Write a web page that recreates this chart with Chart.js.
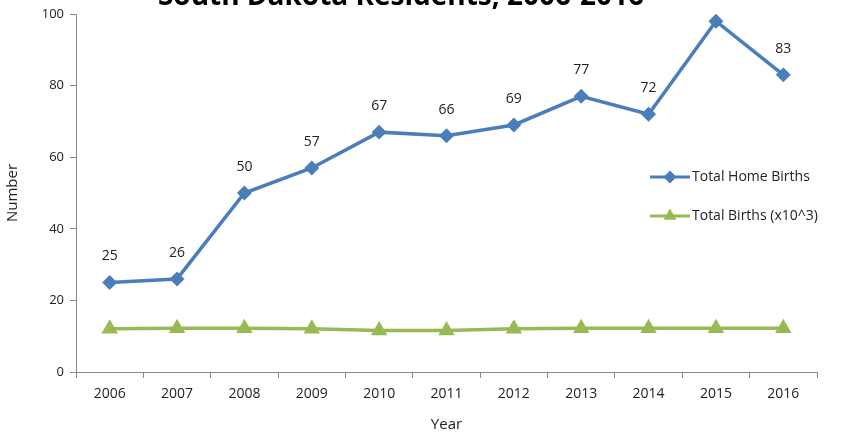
<!DOCTYPE html>
<html>
<head>
<meta charset="utf-8">
<script src="https://cdn.jsdelivr.net/npm/chart.js@4/dist/chart.umd.min.js"></script>
<style>
    html, body { margin: 0; padding: 0; background: #fff; }
    #wrap { width: 841px; height: 438px; }
</style>
</head>
<body>
<div id="wrap"><canvas id="lineChart"></canvas></div>
<script>
var years = ['2006', '2007', '2008', '2009', '2010', '2011', '2012', '2013', '2014', '2015', '2016'];
var homeBirths = [25, 26, 50, 57, 67, 66, 69, 77, 72, 98, 83];
var totalBirths = [12.1, 12.2, 12.2, 12.1, 11.6, 11.6, 12.1, 12.2, 12.2, 12.2, 12.2];
var yTicks = [0, 20, 40, 60, 80, 100];

var blue = '#4a7ebb';
var green = '#98b954';
var fontName = "'Open Sans', 'DejaVu Sans', sans-serif";

document.addEventListener("DOMContentLoaded", function () {
    var ctx = document.getElementById('lineChart').getContext('2d');

    // title (cut off at top), value labels and in-plot legend
    var extras = {
        id: 'extras',
        afterDatasetsDraw: function (chart) {
            var c = chart.ctx;
            c.save();
            c.fillStyle = '#000';
            c.font = "bold 28px " + fontName;
            c.textAlign = 'center';
            c.textBaseline = 'alphabetic';
            c.fillText('South Dakota Residents, 2006-2016', 401, 5);

            var meta = chart.getDatasetMeta(0);
            c.font = "14px " + fontName;
            c.fillStyle = '#222';
            c.textBaseline = 'middle';
            meta.data.forEach(function (pt, i) {
                c.fillText(String(homeBirths[i]), pt.x, pt.y - 26);
            });

            var items = [
                { text: 'Total Home Births', color: blue, style: 'rectRot', y: 177 },
                { text: 'Total Births (x10^3)', color: green, style: 'triangle', y: 216 }
            ];
            c.textAlign = 'left';
            c.font = "14px " + fontName;
            items.forEach(function (it) {
                c.strokeStyle = it.color;
                c.lineWidth = 3;
                c.beginPath();
                c.moveTo(650, it.y);
                c.lineTo(690, it.y);
                c.stroke();
                Chart.helpers.drawPoint(c, { pointStyle: it.style, radius: 4.5, borderWidth: 1 }, 670, it.y);
                c.fillStyle = it.color;
                c.fill();
                c.fillStyle = '#222';
                c.fillText(it.text, 692, it.y);
            });
            c.restore();
        }
    };

    new Chart(ctx, {
        type: 'line',
        data: {
            labels: years,
            datasets: [{
                label: 'Total Home Births',
                data: homeBirths,
                borderColor: blue,
                backgroundColor: blue,
                borderWidth: 3.5,
                pointStyle: 'rectRot',
                pointRadius: 5,
                pointHoverRadius: 5,
                tension: 0
            }, {
                label: 'Total Births (x10^3)',
                data: totalBirths,
                borderColor: green,
                backgroundColor: green,
                borderWidth: 3.5,
                pointStyle: 'triangle',
                pointRadius: 6,
                pointHoverRadius: 6,
                tension: 0
            }]
        },
        options: {
            responsive: true,
            maintainAspectRatio: false,
            animation: false,
            layout: { padding: { top: 14, right: 24, left: 0, bottom: 0 } },
            plugins: {
                legend: { display: false },
                title: { display: false },
                tooltip: { enabled: false }
            },
            scales: {
                x: {
                    offset: true,
                    grid: {
                        offset: true,
                        drawOnChartArea: false,
                        tickLength: 6,
                        color: '#888'
                    },
                    border: { color: '#888', width: 1 },
                    ticks: {
                        color: '#222',
                        font: { family: fontName, size: 14 },
                        padding: 8,
                        maxRotation: 0
                    },
                    title: {
                        display: true,
                        text: 'Year',
                        color: '#222',
                        font: { family: fontName, size: 15 },
                        padding: { top: 6 }
                    },
                    afterFit: function (s) { s.height = 66; }
                },
                y: {
                    min: 0,
                    max: 100,
                    afterBuildTicks: function (s) {
                        s.ticks = yTicks.map(function (v) { return { value: v }; });
                    },
                    grid: {
                        drawOnChartArea: false,
                        tickLength: 6,
                        color: '#888'
                    },
                    border: { color: '#888', width: 1 },
                    ticks: {
                        color: '#222',
                        font: { family: fontName, size: 13 },
                        padding: 6
                    },
                    title: {
                        display: true,
                        text: 'Number',
                        color: '#222',
                        font: { family: fontName, size: 15 },
                        padding: { bottom: 4 }
                    },
                    afterFit: function (s) { s.width = 76; }
                }
            }
        },
        plugins: [extras]
    });
});
</script>
</body>
</html>
